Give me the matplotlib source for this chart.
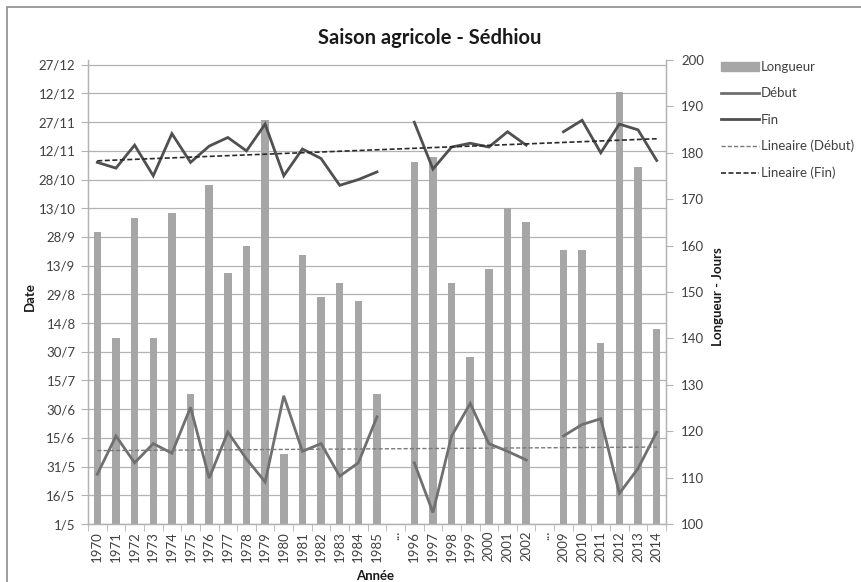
import numpy as np
import matplotlib
matplotlib.use("Agg")
import matplotlib.pyplot as plt
from matplotlib.patches import Rectangle
from matplotlib.lines import Line2D
from matplotlib.patches import Patch

plt.rcParams['font.family'] = ['Lato', 'DejaVu Sans']

# ---- data ----
categories = (["1970", "1971", "1972", "1973", "1974", "1975", "1976", "1977",
               "1978", "1979", "1980", "1981", "1982", "1983", "1984", "1985", "...",
               "1996", "1997", "1998", "1999", "2000", "2001", "2002", "...",
               "2009", "2010", "2011", "2012", "2013", "2014"])
nan = np.nan
longueur = [163, 140, 166, 140, 167, 128, 173, 154, 160, 187, 115, 158, 149, 152, 148, 128, nan,
            178, 179, 152, 136, 155, 168, 165, nan,
            159, 159, 139, 193, 177, 142]
# day of year (1/5 = 121)
debut = [147, 167, 153, 163, 158, 182, 145, 169, 155, 143, 188, 159, 163, 146, 153, 177, nan,
         153, 127, 167, 184, 163, 159, 154.5, nan,
         167, 173, 176, 137, 150, 169]
fin = [310, 307, 319, 303, 325, 310, 318.5, 323, 316, 330, 303, 317, 312, 298, 301, 305, nan,
       331, 306.5, 318, 320, 318, 326, 319, nan,
       326, 332, 315, 330, 327, 311]
date_ticks = [121 + 15 * k for k in range(17)]
date_labels = ["1/5", "16/5", "31/5", "15/6", "30/6", "15/7", "30/7", "14/8", "29/8",
               "13/9", "28/9", "13/10", "28/10", "12/11", "27/11", "12/12", "27/12"]
jours_ticks = [100, 110, 120, 130, 140, 150, 160, 170, 180, 190, 200]

# ---- figure ----
W, H = 861, 582
fig = plt.figure(figsize=(W / 100, H / 100), dpi=100)
ax = fig.add_axes([88 / W, 1 - 524 / H, (666 - 88) / W, (524 - 60) / H])
ax2 = ax.twinx()

x = np.arange(len(categories))
grid_c = "#b3b3b3"
txt_c = "#404040"

# bars on secondary axis
ax2.bar(x, longueur, width=0.4, color="#a6a6a6", zorder=2)
ax2.set_ylim(100, 200)
ax2.set_yticks(jours_ticks)

# lines on primary axis (draw primary above)
ax.set_zorder(ax2.get_zorder() + 1)
ax.patch.set_visible(False)
deb = np.array(debut, dtype=float)
fn = np.array(fin, dtype=float)
ax.plot(x, deb, color="#707070", lw=2.0, solid_joinstyle="miter", zorder=3)
ax.plot(x, fn, color="#505050", lw=2.0, solid_joinstyle="miter", zorder=3)

m = ~np.isnan(deb)
pd_ = np.polyfit(x[m] + 1, deb[m], 1)
m2 = ~np.isnan(fn)
pf_ = np.polyfit(x[m2] + 1, fn[m2], 1)
ax.plot(x, np.polyval(pd_, x + 1), color="#7a7a7a", lw=1.0, ls=(0, (3, 1.5)), zorder=3)
ax.plot(x, np.polyval(pf_, x + 1), color="#2a2a2a", lw=1.2, ls=(0, (3, 1.5)), zorder=3)

ax.set_ylim(121, 363.5)
ax.set_yticks(date_ticks)
ax.set_yticklabels(date_labels)
ax.set_xlim(-0.5, len(categories) - 0.5)
ax.set_xticks(x)
ax.set_xticklabels(categories, rotation=90)
ax.set_xticks(np.arange(len(categories) + 1) - 0.5, minor=True)
ax.tick_params(axis='x', which='major', length=0, pad=5, labelsize=9.5, labelcolor=txt_c)
ax.tick_params(axis='x', which='minor', length=5, color=grid_c, direction='out')
ax.tick_params(axis='y', length=5, color=grid_c, labelsize=9.5, labelcolor=txt_c, pad=4)
ax2.tick_params(axis='y', length=5, color=grid_c, labelsize=9.5, labelcolor=txt_c, pad=6)

# gridlines
for t in date_ticks:
    ax2.axhline(100 + (t - 121) * 100 / (363.5 - 121), color=grid_c, lw=0.9, zorder=1)

for a in (ax, ax2):
    a.spines['top'].set_visible(False)
    for s in ('left', 'right', 'bottom'):
        a.spines[s].set_color(grid_c)
        a.spines[s].set_linewidth(0.9)

ax.set_ylabel("Date", fontsize=9.5, fontweight='bold', color="#1a1a1a")
ax.yaxis.set_label_coords(-0.09, 0.49)
ax2.set_ylabel("Longueur - Jours", fontsize=9.5, fontweight='bold', color="#1a1a1a")
ax2.yaxis.set_label_coords(1.08, 0.49)
fig.text(375 / W, 1 - 576 / H, "Année", ha='center', va='center', fontsize=9.5,
         fontweight='bold', color="#1a1a1a")
fig.text(430 / W, 1 - 38 / H, "Saison agricole - Sédhiou", ha='center', va='center',
         fontsize=14.5, fontweight='bold', color="#1a1a1a")

handles = [Patch(color="#a6a6a6"),
           Line2D([], [], color="#707070", lw=2.0),
           Line2D([], [], color="#505050", lw=2.0),
           Line2D([], [], color="#7a7a7a", lw=1.0, ls=(0, (3, 1.5))),
           Line2D([], [], color="#2a2a2a", lw=1.2, ls=(0, (3, 1.5)))]
labels = ["Longueur", "Début", "Fin", "Lineaire (Début)", "Lineaire (Fin)"]
fig.legend(handles, labels, loc='upper left', bbox_to_anchor=(721 / W, 1 - 61 / H),
           frameon=False, fontsize=9.5, handlelength=2.85, handleheight=0.6,
           handletextpad=0.2, labelspacing=1.08, borderaxespad=0, borderpad=0,
           labelcolor=txt_c)

# chart border
fig.patches.append(Rectangle((7 / W, -0.05), 1.1, 1 - 7 / H + 0.05, transform=fig.transFigure,
                             fill=False, edgecolor="#8c8c8c", lw=1.2))

fig.savefig("out.png", dpi=100)
